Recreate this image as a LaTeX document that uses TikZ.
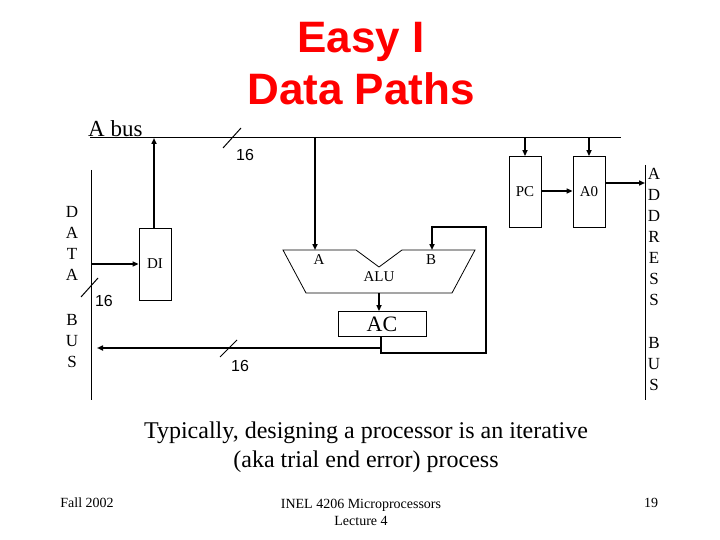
\documentclass[tikz,border=0pt]{standalone}
\usepackage{fontspec}
\setmainfont{Liberation Serif}
\newfontfamily\arial{Liberation Sans}
\usetikzlibrary{arrows.meta}
\begin{document}
\begin{tikzpicture}[x=1pt,y=-1pt,
  ln/.style={line width=1pt},
  arr/.style={line width=1.6pt,-{Triangle[length=6pt,width=5pt]}},
  wire/.style={line width=1.6pt},
  reg/.style={draw,line width=0.8pt,inner sep=0pt},
  num/.style={font=\arial\fontsize{16}{16}\selectfont},
  lab/.style={font=\fontsize{15}{15}\selectfont},
  let/.style={font=\fontsize{17}{21}\selectfont,align=center}]
\useasboundingbox (0,0) rectangle (720,540);
\node[text=red,font=\arial\bfseries\fontsize{44}{52}\selectfont,align=center] (title) at (361,64) {Easy I\\Data Paths};
% buses
\coordinate (ab1) at (90,138); \coordinate (ab2) at (621,138);
\draw[ln] (ab1) -- (ab2);
\node[font=\fontsize{23}{23}\selectfont,anchor=base west,inner sep=1pt] (abus) at (87,137) {A bus};
\coordinate (db1) at (91,170); \coordinate (db2) at (91,400);
\draw[ln] (db1) -- (db2);
\coordinate (adb1) at (645,165); \coordinate (adb2) at (645,400);
\draw[ln] (adb1) -- (adb2);
\node[let] (data) at (72,243) {D\\A\\T\\A};
\node[let] (bus1) at (72,341) {B\\U\\S};
\node[let] (addr) at (654,237) {A\\D\\D\\R\\E\\S\\S};
\node[let] (bus2) at (654,364) {B\\U\\S};
% slashes
\draw[ln] (223,148) -- (241,128); \node[num] (n1) at (245,155) {16};
\draw[ln] (81,297) -- (98,278); \node[num] (n2) at (104,301) {16};
\draw[ln] (220,357) -- (237,340); \node[num] (n3) at (240,366) {16};
% DI
\node[reg,minimum width=32pt,minimum height=72pt,lab] (DI) at (155,264) {DI};
\draw[arr] (db1 |- DI.center) -- (DI.west);
\draw[arr] (DI.north -| 154,0) -- (154,138);
% PC A0
\node[reg,minimum width=32pt,minimum height=71pt,lab] (PC) at (525,192) {PC};
\node[reg,minimum width=32pt,minimum height=71pt,lab] (A0) at (589,192) {A0};
\draw[arr] (525,138) -- (PC.north);
\draw[arr] (589,138) -- (A0.north);
\draw[arr] (PC.east |- 0,191) -- (A0.west |- 0,191);
\draw[arr] (A0.east |- 0,183) -- (adb1 |- 0,183);
% ALU
\draw[line width=0.8pt] (283,250) -- (356,250) -- (379,267) -- (402,250) -- (475,250) -- (452,293) -- (306,293) -- cycle;
\node[lab] (la) at (319,260) {A};
\node[lab] (lb) at (431,260) {B};
\node[lab] (alu) at (379,277) {ALU};
\coordinate (aluout) at (379,293);
\draw[arr] (315,138) -- (315,250);
% AC
\node[reg,minimum width=88pt,minimum height=25pt,font=\fontsize{22}{22}\selectfont] (AC) at (382,324) {AC};
\draw[arr] (aluout) -- (AC.north -| aluout);
\draw[wire] (381,337) -- (381,353) -- (486,353) -- (486,227) -- (432,227);
\draw[arr] (432,226) -- (432,250);
\draw[arr] (381,348) -- (97,348);
% text
\node[font=\fontsize{24}{29}\selectfont,align=center] (note) at (366,447) {Typically, designing a processor is an iterative\\(aka trial end error) process};
\node[font=\fontsize{14}{17}\selectfont] (f1) at (87,503) {Fall 2002};
\node[font=\fontsize{14}{17}\selectfont,align=center] (f2) at (361,512) {INEL 4206 Microprocessors\\Lecture 4};
\node[font=\fontsize{14}{17}\selectfont] (f3) at (651,503) {19};
\end{tikzpicture}
\end{document}
